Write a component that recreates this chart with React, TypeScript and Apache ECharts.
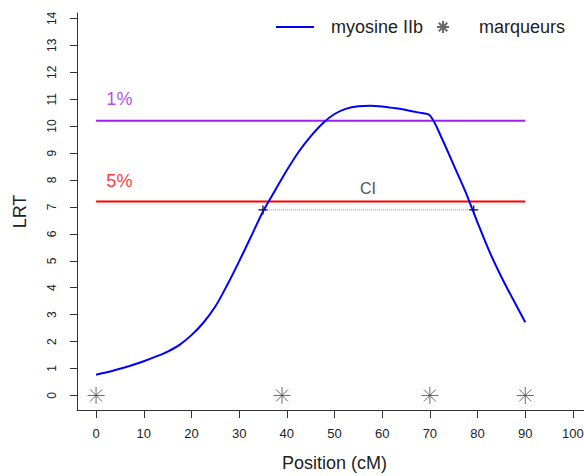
import React, { useEffect, useRef } from "react";
import * as echarts from "echarts";

// Curve: LRT profile for myosine IIb along the chromosome (cM)
const positions = [0, 2.5, 5, 7.5, 10, 12.5, 15, 17.5, 20, 22.5, 25, 27.5, 30, 32.5, 35, 37.5, 40, 42.5, 45, 47.5, 50, 52.5, 55, 57.5, 60, 62.5, 65, 67.5, 70, 72.5, 75, 77.5, 80, 82.5, 85, 87.5, 90];
const lrtValues = [0.77, 0.87, 0.99, 1.12, 1.27, 1.44, 1.63, 1.88, 2.24, 2.7, 3.3, 4.1, 4.98, 5.9, 6.83, 7.6, 8.36, 9.05, 9.62, 10.1, 10.45, 10.65, 10.74, 10.76, 10.73, 10.67, 10.6, 10.51, 10.4, 9.55, 8.55, 7.55, 6.42, 5.34, 4.4, 3.55, 2.72];

// Markers (cM)
const markerPositions = [0, 39, 70, 90];

// Thresholds
const threshold1 = 10.2;
const threshold5 = 7.2;
const thresholdRange = [0, 90];

// Confidence interval
const ciBounds = [35, 79.2];
const ciLevel = 6.89;

// Ticks
const xTicks = [0, 10, 20, 30, 40, 50, 60, 70, 80, 90, 100];
const yTicks = [0, 1, 2, 3, 4, 5, 6, 7, 8, 9, 10, 11, 12, 13, 14];

const STAR = "path://M8,0L8,16M0,8L16,8M2.34,2.34L13.66,13.66M2.34,13.66L13.66,2.34";
const PLUS = "path://M0,5L10,5M5,0L5,10";
const FONT = "Liberation Sans, Arial, sans-serif";

export default function App() {
  const ref = useRef<HTMLDivElement>(null);

  useEffect(() => {
    if (!ref.current) return;
    const chart = echarts.init(ref.current, undefined, { renderer: "svg" });
    const axisColor = "#333";
    const option: any = {
      animation: false,
      backgroundColor: "#ffffff",
      textStyle: { fontFamily: FONT },
      grid: { left: 77, top: 13, width: 515, height: 397, containLabel: false, outerBoundsMode: "none" },
      legend: {
        data: [
          { name: "myosine IIb", itemStyle: { opacity: 0 } },
          { name: "marqueurs" },
        ],
        left: 270,
        top: 13,
        itemWidth: 38,
        itemHeight: 12,
        itemGap: 13,
        textStyle: { fontSize: 18, color: "#222", fontFamily: FONT, padding: [0, 0, 0, 12] },
        selectedMode: false,
      },
      xAxis: {
        type: "value",
        min: -4,
        max: 104,
        name: "Position (cM)",
        nameLocation: "middle",
        nameGap: 44,
        nameTextStyle: { fontSize: 18, color: "#222", fontFamily: FONT },
        axisLine: { show: true, onZero: false, lineStyle: { color: axisColor, width: 1 } },
        axisTick: { show: true, length: 8, lineStyle: { color: axisColor }, customValues: xTicks },
        axisLabel: { show: true, fontSize: 13, color: "#222", margin: 17, customValues: xTicks, fontFamily: FONT },
        splitLine: { show: false },
      },
      yAxis: {
        type: "value",
        min: -0.54,
        max: 14.2,
        name: "LRT",
        nameLocation: "middle",
        nameGap: 48,
        nameRotate: 90,
        nameTextStyle: { fontSize: 18, color: "#222", fontFamily: FONT },
        axisLine: { show: true, onZero: false, lineStyle: { color: axisColor, width: 1 } },
        axisTick: { show: true, length: 7, lineStyle: { color: axisColor }, customValues: yTicks },
        axisLabel: { show: true, fontSize: 12, color: "#222", rotate: 90, margin: 19, customValues: yTicks, fontFamily: FONT },
        splitLine: { show: false },
      },
      series: [
        {
          name: "myosine IIb",
          type: "line",
          data: positions.map((p, i) => [p, lrtValues[i]]),
          smooth: 0.3,
          symbol: "none",
          lineStyle: { color: "#0000FF", width: 2 },
          itemStyle: { color: "#0000FF" },
          z: 5,
        },
        {
          name: "seuil 1%",
          type: "line",
          data: thresholdRange.map((p) => [p, threshold1]),
          symbol: "none",
          lineStyle: { color: "#A020F0", width: 2 },
          z: 3,
        },
        {
          name: "seuil 5%",
          type: "line",
          data: thresholdRange.map((p) => [p, threshold5]),
          symbol: "none",
          lineStyle: { color: "#FF0000", width: 2 },
          z: 3,
        },
        {
          name: "CI",
          type: "line",
          data: ciBounds.map((p) => [p, ciLevel]),
          symbol: PLUS,
          symbolSize: 9,
          showSymbol: true,
          lineStyle: { color: "#999", width: 1, type: "dotted" },
          itemStyle: { color: "transparent", borderColor: "#111", borderWidth: 1.3 },
          z: 4,
        },
        {
          name: "marqueurs",
          type: "scatter",
          data: markerPositions.map((p) => [p, 0]),
          symbol: STAR,
          symbolSize: 17,
          symbolKeepAspect: true,
          itemStyle: { color: "transparent", borderColor: "#444", borderWidth: 1 },
          z: 4,
        },
        {
          name: "annotations",
          type: "scatter",
          symbolSize: 0,
          silent: true,
          data: [
            { value: [2.16, 11.0], label: { formatter: "1%", color: "#A020F0", fontSize: 18, align: "left" } },
            { value: [2.16, 7.95], label: { formatter: "5%", color: "#FF0000", fontSize: 18, align: "left" } },
            { value: [57.0, 7.67], label: { formatter: "CI", color: "#222", fontSize: 16, align: "center" } },
          ],
          label: { show: true, position: "inside", verticalAlign: "middle", fontFamily: FONT },
          z: 6,
        },
      ],
    };
    chart.setOption(option);
    return () => chart.dispose();
  }, []);

  return <div ref={ref} style={{ position: "absolute", left: 0, top: 0, width: 584, height: 476 }} />;
}
